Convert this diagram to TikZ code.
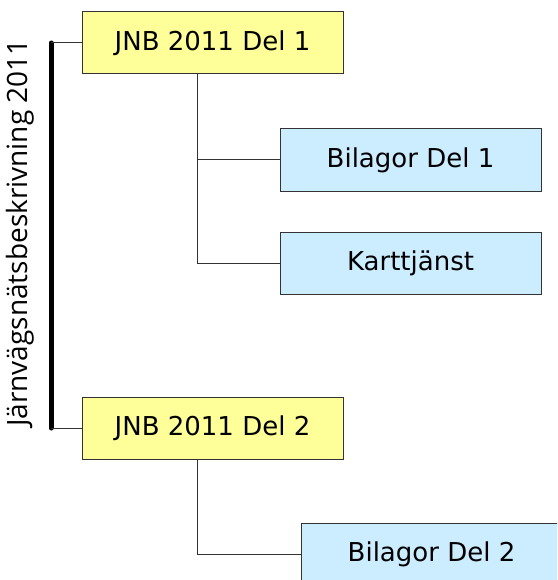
\documentclass[tikz,border=0pt]{standalone}
\usepackage{fontspec}
\setmainfont{DejaVu Sans}
\newfontfamily\sidefont{Open Sans}
\definecolor{boxyellow}{HTML}{FFFF99}
\definecolor{boxblue}{HTML}{CCECFF}
\definecolor{edgegray}{HTML}{333333}
\begin{document}
\begin{tikzpicture}[x=1pt,y=-1pt,
  basebox/.style={draw=edgegray,line width=1pt,minimum width=261pt,minimum height=62pt,inner sep=0pt,font=\fontsize{26}{30}\selectfont},
  mainbox/.style={basebox,fill=boxyellow},
  subbox/.style={basebox,fill=boxblue},
  link/.style={draw=edgegray,line width=1pt}]
\useasboundingbox (0,0) rectangle (557,580);
\clip (0,0) rectangle (557,580);
\node[mainbox] (j1) at (212.5,43) {JNB 2011 Del 1};
\node[subbox] (b1) at (410.5,160) {Bilagor Del 1};
\node[subbox] (k) at (410.5,263) {Karttjänst};
\node[mainbox] (j2) at (212.5,428) {JNB 2011 Del 2};
\node[subbox] (b2) at (431.5,554) {Bilagor Del 2};
\coordinate (bt) at (51,43);
\coordinate (bb) at (51,428);
\node[rotate=90,font=\sidefont\fontsize{28}{32}\selectfont] (side) at (20,233) {Järnvägsnätsbeskrivning 2011};
\draw[line width=5pt,line cap=round] (bt) -- (bb);
\draw[link] (bt) -- (j1.west);
\draw[link] (bb) -- (j2.west);
\draw[link] (j1.south -| 197,0) |- (b1.west);
\draw[link] (j1.south -| 197,0) |- (k.west);
\draw[link] (j2.south -| 197,0) |- (b2.west);
\end{tikzpicture}
\end{document}
